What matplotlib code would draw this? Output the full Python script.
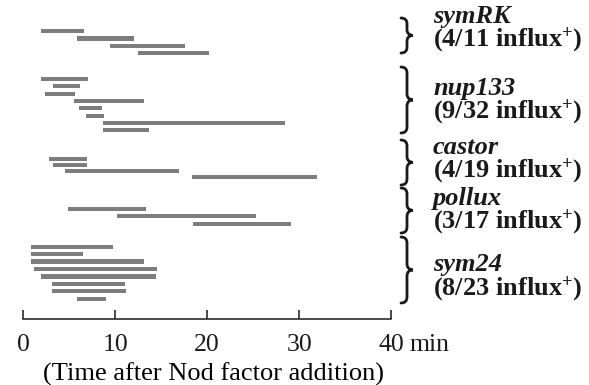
import matplotlib

matplotlib.use("Agg")
import matplotlib.pyplot as plt
from matplotlib.path import Path
from matplotlib.patches import PathPatch

# ---------------------------------------------------------------------------
# Data: calcium-influx windows (min after Nod factor addition) per cell
# ---------------------------------------------------------------------------
genes = ["symRK", "nup133", "castor", "pollux", "sym24"]
counts = ["4/11", "9/32", "4/19", "3/17", "8/23"]

symRK_start = [1.9, 5.8, 9.4, 12.5]
symRK_end = [6.6, 12.0, 17.6, 20.2]
nup133_start = [1.9, 3.2, 2.4, 5.5, 6.1, 6.8, 8.7, 8.7]
nup133_end = [7.0, 6.2, 5.6, 13.1, 8.6, 8.8, 28.5, 13.7]
castor_start = [2.8, 3.2, 4.5, 18.3]
castor_end = [6.9, 6.9, 16.9, 31.9]
pollux_start = [4.9, 10.2, 18.5]
pollux_end = [13.4, 25.3, 29.1]
sym24_start = [0.9, 0.9, 0.9, 1.2, 1.9, 3.1, 3.1, 5.9]
sym24_end = [9.8, 6.5, 13.1, 14.5, 14.4, 11.1, 11.2, 9.0]

starts = [symRK_start, nup133_start, castor_start, pollux_start, sym24_start]
ends = [symRK_end, nup133_end, castor_end, pollux_end, sym24_end]

# ---------------------------------------------------------------------------
# Layout (pixel units, measured from the top of the figure)
# ---------------------------------------------------------------------------
W, H = 589, 385
AX_Y = 319.3                      # x-axis line
group_y0 = [31, 79, 159.3, 208.7, 246.7]
row_step = [7.43, 7.33, 5.9, 7.5, 7.43]
brace_span = [(18, 53), (67, 133), (140, 185), (188, 233), (237, 303)]
label_y = [16, 88, 147, 198, 265]
BAR = "#7d7d7d"
INK = "#1a1a1a"
TICK_PAD = 10.5                   # points

plt.rcParams.update({
    "font.family": ["Liberation Serif", "DejaVu Serif"],
    "mathtext.fontset": "custom",
    "mathtext.rm": "Liberation Serif",
    "mathtext.bf": "Liberation Serif:bold",
    "mathtext.default": "bf",
    "text.color": INK,
})

fig = plt.figure(figsize=(W / 100, H / 100), dpi=100)

x0_px, x40_px = 23.2, 391.2
ax = fig.add_axes([x0_px / W, (H - AX_Y) / H, (x40_px - x0_px) / W, AX_Y / H])
ax.set_xlim(0, 40)
ax.set_ylim(AX_Y, 0)

for g, (s, e) in enumerate(zip(starts, ends)):
    ys = [group_y0[g] + i * row_step[g] for i in range(len(s))]
    widths = [b - a for a, b in zip(s, e)]
    ax.barh(ys, widths, left=s, height=4.2, color=BAR, edgecolor="none")

for side in ("top", "right", "left"):
    ax.spines[side].set_visible(False)
ax.spines["bottom"].set_linewidth(1.1)
ax.spines["bottom"].set_color(INK)
ax.set_yticks([])
ax.set_xticks([0, 10, 20, 30, 40])
ax.tick_params(axis="x", direction="in", length=6.5, width=1.1, pad=TICK_PAD,
               labelsize=18.5, colors=INK)
# "min" unit placed on the same line as the tick labels
ax.text(42.0, -(TICK_PAD * 100 / 72) / AX_Y, "min",
        transform=ax.get_xaxis_transform(), fontsize=18.5, ha="left", va="top")
ax.set_xlabel("(Time after Nod factor addition)", fontsize=19, labelpad=5)
ax.xaxis.label.set_x(0.518)
ax.patch.set_visible(False)

# overlay in pixel coordinates for braces and group labels
ov = fig.add_axes([0, 0, 1, 1])
ov.set_xlim(0, W)
ov.set_ylim(H, 0)
ov.set_axis_off()


def brace(axh, x, y0, y1, w):
    """Right-pointing curly brace from y0 to y1 (tip at x + w)."""
    xm = x + w * 0.5
    ym = (y0 + y1) / 2
    r = min(6.0, (y1 - y0) / 6)
    verts = [
        (x, y0), (xm, y0), (xm, y0 + r),
        (xm, ym - r),
        (xm, ym), (x + w, ym), (x + w, ym),
        (xm, ym), (xm, ym + r),
        (xm, y1 - r),
        (xm, y1), (x, y1),
    ]
    codes = [Path.MOVETO, Path.CURVE3, Path.CURVE3,
             Path.LINETO,
             Path.CURVE4, Path.CURVE4, Path.CURVE4,
             Path.CURVE3, Path.CURVE3,
             Path.LINETO,
             Path.CURVE3, Path.CURVE3]
    axh.add_patch(PathPatch(Path(verts, codes), facecolor="none",
                            edgecolor=INK, lw=2.0, capstyle="round"))


for g, gene in enumerate(genes):
    y0, y1 = brace_span[g]
    brace(ov, 401, y0, y1, 12)
    ov.text(433, label_y[g], gene, fontsize=19, fontstyle="italic",
            fontweight="bold", ha="left", va="center")
    ov.text(433, label_y[g] + 24, f"({counts[g]} influx$^{{+}}$)",
            fontsize=19, fontweight="bold", ha="left", va="center")

fig.savefig("out.png", dpi=100)
